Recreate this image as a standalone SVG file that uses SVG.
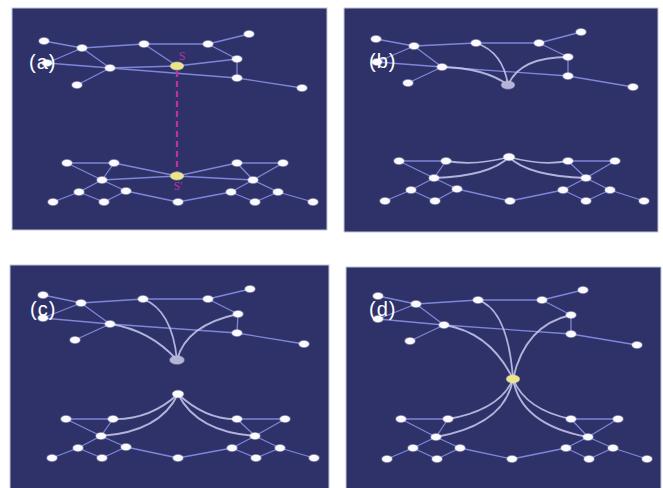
<svg xmlns="http://www.w3.org/2000/svg" width="663" height="488" viewBox="0 0 663 488">
<style>
.bg{fill:#2e3269;stroke:#c4c6d4;stroke-width:1}
.e{stroke:#7f86da;stroke-width:1.3;fill:none}
.c{stroke:#c8caf0;stroke-width:1.8;fill:none;opacity:.85}
.n{fill:#fafaff;stroke:#ffffff;stroke-opacity:.35;stroke-width:1.5}
.y{fill:#ebe58a;stroke:#f4f0b0;stroke-opacity:.5;stroke-width:1.5}
.g{fill:#b4b4d6;stroke:#c8c8e4;stroke-opacity:.5;stroke-width:1.5}
.lab{font-family:"Liberation Sans",Arial,sans-serif;font-size:20px;letter-spacing:1px;fill:#ffffff}
.s{font-family:"Liberation Serif","Times New Roman",serif;font-size:12px;fill:#b0359c;text-anchor:middle}
.d{stroke:#c0309a;stroke-width:2.2;stroke-dasharray:6 4;fill:none}
</style>
<g id="panels">
<rect class="bg" x="12" y="8" width="315" height="222"/>
<rect class="bg" x="344" y="8" width="314" height="224"/>
<rect class="bg" x="10" y="265" width="319" height="224"/>
<rect class="bg" x="346" y="267" width="315" height="222"/>
</g>
<g id="connectors">
<!-- panel a -->
<line class="e" x1="44" y1="41" x2="82" y2="48"/>
<line class="e" x1="82" y1="48" x2="144" y2="44"/>
<line class="e" x1="144" y1="44" x2="208" y2="44"/>
<line class="e" x1="208" y1="44" x2="249" y2="34"/>
<line class="e" x1="208" y1="44" x2="237" y2="59"/>
<line class="e" x1="237" y1="59" x2="237" y2="78"/>
<line class="e" x1="237" y1="78" x2="302" y2="88"/>
<line class="e" x1="47" y1="63" x2="82" y2="48"/>
<line class="e" x1="47" y1="63" x2="110" y2="68"/>
<line class="e" x1="110" y1="68" x2="237" y2="78"/>
<line class="e" x1="82" y1="48" x2="110" y2="68"/>
<line class="e" x1="110" y1="68" x2="77" y2="85"/>
<line class="e" x1="144" y1="44" x2="177" y2="66"/>
<line class="e" x1="237" y1="59" x2="177" y2="66"/>
<line class="e" x1="110" y1="68" x2="177" y2="66"/>
<line class="e" x1="67" y1="163" x2="114" y2="163"/>
<line class="e" x1="67" y1="163" x2="102" y2="180"/>
<line class="e" x1="114" y1="163" x2="102" y2="180"/>
<line class="e" x1="102" y1="180" x2="79" y2="192"/>
<line class="e" x1="102" y1="180" x2="126" y2="191"/>
<line class="e" x1="79" y1="192" x2="53" y2="202"/>
<line class="e" x1="79" y1="192" x2="104" y2="202"/>
<line class="e" x1="104" y1="202" x2="126" y2="191"/>
<line class="e" x1="126" y1="191" x2="178" y2="202"/>
<line class="e" x1="178" y1="202" x2="231" y2="192"/>
<line class="e" x1="237" y1="163" x2="283" y2="163"/>
<line class="e" x1="237" y1="163" x2="253" y2="180"/>
<line class="e" x1="283" y1="163" x2="253" y2="180"/>
<line class="e" x1="253" y1="180" x2="231" y2="192"/>
<line class="e" x1="253" y1="180" x2="278" y2="192"/>
<line class="e" x1="231" y1="192" x2="255" y2="202"/>
<line class="e" x1="255" y1="202" x2="278" y2="192"/>
<line class="e" x1="278" y1="192" x2="313" y2="202"/>
<line class="e" x1="114" y1="163" x2="177" y2="176"/>
<line class="e" x1="102" y1="180" x2="177" y2="176"/>
<line class="e" x1="237" y1="163" x2="177" y2="176"/>
<line class="e" x1="253" y1="180" x2="177" y2="176"/>
<line class="d" x1="177" y1="71" x2="177" y2="172"/>
<!-- panel b -->
<line class="e" x1="376" y1="39" x2="414" y2="46"/>
<line class="e" x1="414" y1="46" x2="476" y2="43"/>
<line class="e" x1="476" y1="43" x2="539" y2="43"/>
<line class="e" x1="539" y1="43" x2="581" y2="32"/>
<line class="e" x1="539" y1="43" x2="568" y2="57"/>
<line class="e" x1="568" y1="57" x2="568" y2="76"/>
<line class="e" x1="568" y1="76" x2="633" y2="87"/>
<line class="e" x1="377" y1="62" x2="414" y2="46"/>
<line class="e" x1="377" y1="62" x2="442" y2="67"/>
<line class="e" x1="442" y1="67" x2="568" y2="76"/>
<line class="e" x1="414" y1="46" x2="442" y2="67"/>
<line class="e" x1="442" y1="67" x2="408" y2="83"/>
<path class="c" d="M476,43 Q503,52 508,85"/>
<path class="c" d="M568,57 Q520,57 508,85"/>
<path class="c" d="M442,67 Q485,68 508,85"/>
<line class="e" x1="399" y1="161" x2="446" y2="161"/>
<line class="e" x1="399" y1="161" x2="434" y2="178"/>
<line class="e" x1="446" y1="161" x2="434" y2="178"/>
<line class="e" x1="434" y1="178" x2="411" y2="190"/>
<line class="e" x1="434" y1="178" x2="457" y2="189"/>
<line class="e" x1="411" y1="190" x2="385" y2="201"/>
<line class="e" x1="411" y1="190" x2="435" y2="201"/>
<line class="e" x1="435" y1="201" x2="457" y2="189"/>
<line class="e" x1="457" y1="189" x2="510" y2="201"/>
<line class="e" x1="510" y1="201" x2="563" y2="190"/>
<line class="e" x1="568" y1="161" x2="615" y2="161"/>
<line class="e" x1="568" y1="161" x2="586" y2="178"/>
<line class="e" x1="615" y1="161" x2="586" y2="178"/>
<line class="e" x1="586" y1="178" x2="563" y2="190"/>
<line class="e" x1="586" y1="178" x2="610" y2="190"/>
<line class="e" x1="563" y1="190" x2="586" y2="201"/>
<line class="e" x1="586" y1="201" x2="610" y2="190"/>
<line class="e" x1="610" y1="190" x2="644" y2="201"/>
<path class="c" d="M446,161 Q475,166 509,157"/>
<path class="c" d="M434,178 Q490,176 509,157"/>
<path class="c" d="M568,161 Q542,166 509,157"/>
<path class="c" d="M586,178 Q528,176 509,157"/>
<!-- panel c -->
<line class="e" x1="43" y1="295" x2="81" y2="303"/>
<line class="e" x1="81" y1="303" x2="143" y2="299"/>
<line class="e" x1="143" y1="299" x2="208" y2="299"/>
<line class="e" x1="208" y1="299" x2="250" y2="289"/>
<line class="e" x1="208" y1="299" x2="238" y2="314"/>
<line class="e" x1="238" y1="314" x2="237" y2="333"/>
<line class="e" x1="237" y1="333" x2="304" y2="344"/>
<line class="e" x1="43" y1="318" x2="81" y2="303"/>
<line class="e" x1="43" y1="318" x2="110" y2="324"/>
<line class="e" x1="110" y1="324" x2="237" y2="333"/>
<line class="e" x1="81" y1="303" x2="110" y2="324"/>
<line class="e" x1="110" y1="324" x2="75" y2="340"/>
<path class="c" d="M143,299 Q172,310 177,360"/>
<path class="c" d="M238,314 Q186,325 177,360"/>
<path class="c" d="M110,324 Q150,330 177,360"/>
<line class="e" x1="66" y1="419" x2="113" y2="419"/>
<line class="e" x1="66" y1="419" x2="101" y2="436"/>
<line class="e" x1="113" y1="419" x2="101" y2="436"/>
<line class="e" x1="101" y1="436" x2="78" y2="448"/>
<line class="e" x1="101" y1="436" x2="126" y2="447"/>
<line class="e" x1="78" y1="448" x2="52" y2="458"/>
<line class="e" x1="78" y1="448" x2="102" y2="458"/>
<line class="e" x1="102" y1="458" x2="126" y2="447"/>
<line class="e" x1="126" y1="447" x2="178" y2="458"/>
<line class="e" x1="178" y1="458" x2="232" y2="448"/>
<line class="e" x1="237" y1="419" x2="285" y2="419"/>
<line class="e" x1="237" y1="419" x2="255" y2="436"/>
<line class="e" x1="285" y1="419" x2="255" y2="436"/>
<line class="e" x1="255" y1="436" x2="232" y2="448"/>
<line class="e" x1="255" y1="436" x2="280" y2="448"/>
<line class="e" x1="232" y1="448" x2="256" y2="458"/>
<line class="e" x1="256" y1="458" x2="280" y2="448"/>
<line class="e" x1="280" y1="448" x2="314" y2="458"/>
<path class="c" d="M113,419 Q150,420 178,394"/>
<path class="c" d="M101,436 Q160,432 178,394"/>
<path class="c" d="M237,419 Q206,420 178,394"/>
<path class="c" d="M255,436 Q197,432 178,394"/>
<!-- panel d -->
<line class="e" x1="378" y1="296" x2="416" y2="304"/>
<line class="e" x1="416" y1="304" x2="478" y2="300"/>
<line class="e" x1="478" y1="300" x2="542" y2="300"/>
<line class="e" x1="542" y1="300" x2="583" y2="290"/>
<line class="e" x1="542" y1="300" x2="571" y2="315"/>
<line class="e" x1="571" y1="315" x2="571" y2="334"/>
<line class="e" x1="571" y1="334" x2="637" y2="345"/>
<line class="e" x1="378" y1="319" x2="416" y2="304"/>
<line class="e" x1="378" y1="319" x2="444" y2="325"/>
<line class="e" x1="444" y1="325" x2="571" y2="334"/>
<line class="e" x1="416" y1="304" x2="444" y2="325"/>
<line class="e" x1="444" y1="325" x2="410" y2="341"/>
<path class="c" d="M478,300 Q508,310 513,379"/>
<path class="c" d="M571,315 Q525,325 513,379"/>
<path class="c" d="M444,325 Q490,332 513,379"/>
<line class="e" x1="401" y1="419" x2="448" y2="419"/>
<line class="e" x1="401" y1="419" x2="436" y2="437"/>
<line class="e" x1="448" y1="419" x2="436" y2="437"/>
<line class="e" x1="436" y1="437" x2="413" y2="448"/>
<line class="e" x1="436" y1="437" x2="460" y2="448"/>
<line class="e" x1="413" y1="448" x2="387" y2="459"/>
<line class="e" x1="413" y1="448" x2="437" y2="459"/>
<line class="e" x1="437" y1="459" x2="460" y2="448"/>
<line class="e" x1="460" y1="448" x2="512" y2="459"/>
<line class="e" x1="512" y1="459" x2="566" y2="448"/>
<line class="e" x1="571" y1="419" x2="618" y2="419"/>
<line class="e" x1="571" y1="419" x2="588" y2="437"/>
<line class="e" x1="618" y1="419" x2="588" y2="437"/>
<line class="e" x1="588" y1="437" x2="566" y2="448"/>
<line class="e" x1="588" y1="437" x2="613" y2="448"/>
<line class="e" x1="566" y1="448" x2="589" y2="459"/>
<line class="e" x1="589" y1="459" x2="613" y2="448"/>
<line class="e" x1="613" y1="448" x2="647" y2="459"/>
<path class="c" d="M448,419 Q500,410 513,379"/>
<path class="c" d="M436,437 Q505,425 513,379"/>
<path class="c" d="M571,419 Q526,410 513,379"/>
<path class="c" d="M588,437 Q521,425 513,379"/>
</g>
<!-- nodes panel a -->
<g id="a-n1"><ellipse class="n" cx="44" cy="41" rx="5" ry="3.2"/></g>
<g id="a-n2"><ellipse class="n" cx="82" cy="48" rx="5" ry="3.2"/></g>
<g id="a-n3"><ellipse class="n" cx="144" cy="44" rx="5" ry="3.2"/></g>
<g id="a-n4"><ellipse class="n" cx="208" cy="44" rx="5" ry="3.2"/></g>
<g id="a-n5"><ellipse class="n" cx="249" cy="34" rx="5" ry="3.2"/></g>
<g id="a-n6"><ellipse class="n" cx="237" cy="59" rx="5" ry="3.2"/></g>
<g id="a-n7"><ellipse class="n" cx="47" cy="63" rx="5" ry="3.2"/></g>
<g id="a-n8"><ellipse class="n" cx="110" cy="68" rx="5" ry="3.2"/></g>
<g id="a-S"><ellipse class="y" cx="177" cy="66" rx="6.5" ry="3.8"/><text class="s" x="182" y="60">S</text></g>
<g id="a-n9"><ellipse class="n" cx="77" cy="85" rx="5" ry="3.2"/></g>
<g id="a-n10"><ellipse class="n" cx="237" cy="78" rx="5" ry="3.2"/></g>
<g id="a-n11"><ellipse class="n" cx="302" cy="88" rx="5" ry="3.2"/></g>
<g id="a-b1"><ellipse class="n" cx="67" cy="163" rx="5" ry="3.2"/></g>
<g id="a-b2"><ellipse class="n" cx="114" cy="163" rx="5" ry="3.2"/></g>
<g id="a-b3"><ellipse class="n" cx="102" cy="180" rx="5" ry="3.2"/></g>
<g id="a-b4"><ellipse class="n" cx="79" cy="192" rx="5" ry="3.2"/></g>
<g id="a-b5"><ellipse class="n" cx="126" cy="191" rx="5" ry="3.2"/></g>
<g id="a-b6"><ellipse class="n" cx="53" cy="202" rx="5" ry="3.2"/></g>
<g id="a-b7"><ellipse class="n" cx="104" cy="202" rx="5" ry="3.2"/></g>
<g id="a-Sp"><ellipse class="y" cx="177" cy="176" rx="6.5" ry="3.8"/><text class="s" x="178" y="190">S'</text></g>
<g id="a-b8"><ellipse class="n" cx="178" cy="202" rx="5" ry="3.2"/></g>
<g id="a-b9"><ellipse class="n" cx="237" cy="163" rx="5" ry="3.2"/></g>
<g id="a-b10"><ellipse class="n" cx="283" cy="163" rx="5" ry="3.2"/></g>
<g id="a-b11"><ellipse class="n" cx="253" cy="180" rx="5" ry="3.2"/></g>
<g id="a-b12"><ellipse class="n" cx="231" cy="192" rx="5" ry="3.2"/></g>
<g id="a-b13"><ellipse class="n" cx="278" cy="192" rx="5" ry="3.2"/></g>
<g id="a-b14"><ellipse class="n" cx="255" cy="202" rx="5" ry="3.2"/></g>
<g id="a-b15"><ellipse class="n" cx="313" cy="202" rx="5" ry="3.2"/></g>
<!-- nodes panel b -->
<g id="b-n1"><ellipse class="n" cx="376" cy="39" rx="5" ry="3.2"/></g>
<g id="b-n2"><ellipse class="n" cx="414" cy="46" rx="5" ry="3.2"/></g>
<g id="b-n3"><ellipse class="n" cx="476" cy="43" rx="5" ry="3.2"/></g>
<g id="b-n4"><ellipse class="n" cx="539" cy="43" rx="5" ry="3.2"/></g>
<g id="b-n5"><ellipse class="n" cx="581" cy="32" rx="5" ry="3.2"/></g>
<g id="b-n6"><ellipse class="n" cx="568" cy="57" rx="5" ry="3.2"/></g>
<g id="b-n7"><ellipse class="n" cx="377" cy="62" rx="5" ry="3.2"/></g>
<g id="b-n8"><ellipse class="n" cx="442" cy="67" rx="5" ry="3.2"/></g>
<g id="b-S"><ellipse class="g" cx="508" cy="85" rx="6.5" ry="3.8"/></g>
<g id="b-n9"><ellipse class="n" cx="408" cy="83" rx="5" ry="3.2"/></g>
<g id="b-n10"><ellipse class="n" cx="568" cy="76" rx="5" ry="3.2"/></g>
<g id="b-n11"><ellipse class="n" cx="633" cy="87" rx="5" ry="3.2"/></g>
<g id="b-b1"><ellipse class="n" cx="399" cy="161" rx="5" ry="3.2"/></g>
<g id="b-b2"><ellipse class="n" cx="446" cy="161" rx="5" ry="3.2"/></g>
<g id="b-b3"><ellipse class="n" cx="434" cy="178" rx="5" ry="3.2"/></g>
<g id="b-b4"><ellipse class="n" cx="411" cy="190" rx="5" ry="3.2"/></g>
<g id="b-b5"><ellipse class="n" cx="457" cy="189" rx="5" ry="3.2"/></g>
<g id="b-b6"><ellipse class="n" cx="385" cy="201" rx="5" ry="3.2"/></g>
<g id="b-b7"><ellipse class="n" cx="435" cy="201" rx="5" ry="3.2"/></g>
<g id="b-Sp"><ellipse class="n" cx="509" cy="157" rx="5.5" ry="3.4"/></g>
<g id="b-b8"><ellipse class="n" cx="510" cy="201" rx="5" ry="3.2"/></g>
<g id="b-b9"><ellipse class="n" cx="568" cy="161" rx="5" ry="3.2"/></g>
<g id="b-b10"><ellipse class="n" cx="615" cy="161" rx="5" ry="3.2"/></g>
<g id="b-b11"><ellipse class="n" cx="586" cy="178" rx="5" ry="3.2"/></g>
<g id="b-b12"><ellipse class="n" cx="563" cy="190" rx="5" ry="3.2"/></g>
<g id="b-b13"><ellipse class="n" cx="610" cy="190" rx="5" ry="3.2"/></g>
<g id="b-b14"><ellipse class="n" cx="586" cy="201" rx="5" ry="3.2"/></g>
<g id="b-b15"><ellipse class="n" cx="644" cy="201" rx="5" ry="3.2"/></g>
<!-- nodes panel c -->
<g id="c-n1"><ellipse class="n" cx="43" cy="295" rx="5" ry="3.2"/></g>
<g id="c-n2"><ellipse class="n" cx="81" cy="303" rx="5" ry="3.2"/></g>
<g id="c-n3"><ellipse class="n" cx="143" cy="299" rx="5" ry="3.2"/></g>
<g id="c-n4"><ellipse class="n" cx="208" cy="299" rx="5" ry="3.2"/></g>
<g id="c-n5"><ellipse class="n" cx="250" cy="289" rx="5" ry="3.2"/></g>
<g id="c-n6"><ellipse class="n" cx="238" cy="314" rx="5" ry="3.2"/></g>
<g id="c-n7"><ellipse class="n" cx="43" cy="318" rx="5" ry="3.2"/></g>
<g id="c-n8"><ellipse class="n" cx="110" cy="324" rx="5" ry="3.2"/></g>
<g id="c-S"><ellipse class="g" cx="177" cy="360" rx="7" ry="4"/></g>
<g id="c-n9"><ellipse class="n" cx="75" cy="340" rx="5" ry="3.2"/></g>
<g id="c-n10"><ellipse class="n" cx="237" cy="333" rx="5" ry="3.2"/></g>
<g id="c-n11"><ellipse class="n" cx="304" cy="344" rx="5" ry="3.2"/></g>
<g id="c-Sp"><ellipse class="n" cx="178" cy="394" rx="5.5" ry="3.4"/></g>
<g id="c-b1"><ellipse class="n" cx="66" cy="419" rx="5" ry="3.2"/></g>
<g id="c-b2"><ellipse class="n" cx="113" cy="419" rx="5" ry="3.2"/></g>
<g id="c-b3"><ellipse class="n" cx="101" cy="436" rx="5" ry="3.2"/></g>
<g id="c-b4"><ellipse class="n" cx="78" cy="448" rx="5" ry="3.2"/></g>
<g id="c-b5"><ellipse class="n" cx="126" cy="447" rx="5" ry="3.2"/></g>
<g id="c-b6"><ellipse class="n" cx="52" cy="458" rx="5" ry="3.2"/></g>
<g id="c-b7"><ellipse class="n" cx="102" cy="458" rx="5" ry="3.2"/></g>
<g id="c-b8"><ellipse class="n" cx="178" cy="458" rx="5" ry="3.2"/></g>
<g id="c-b9"><ellipse class="n" cx="237" cy="419" rx="5" ry="3.2"/></g>
<g id="c-b10"><ellipse class="n" cx="285" cy="419" rx="5" ry="3.2"/></g>
<g id="c-b11"><ellipse class="n" cx="255" cy="436" rx="5" ry="3.2"/></g>
<g id="c-b12"><ellipse class="n" cx="232" cy="448" rx="5" ry="3.2"/></g>
<g id="c-b13"><ellipse class="n" cx="280" cy="448" rx="5" ry="3.2"/></g>
<g id="c-b14"><ellipse class="n" cx="256" cy="458" rx="5" ry="3.2"/></g>
<g id="c-b15"><ellipse class="n" cx="314" cy="458" rx="5" ry="3.2"/></g>
<!-- nodes panel d -->
<g id="d-n1"><ellipse class="n" cx="378" cy="296" rx="5" ry="3.2"/></g>
<g id="d-n2"><ellipse class="n" cx="416" cy="304" rx="5" ry="3.2"/></g>
<g id="d-n3"><ellipse class="n" cx="478" cy="300" rx="5" ry="3.2"/></g>
<g id="d-n4"><ellipse class="n" cx="542" cy="300" rx="5" ry="3.2"/></g>
<g id="d-n5"><ellipse class="n" cx="583" cy="290" rx="5" ry="3.2"/></g>
<g id="d-n6"><ellipse class="n" cx="571" cy="315" rx="5" ry="3.2"/></g>
<g id="d-n7"><ellipse class="n" cx="378" cy="319" rx="5" ry="3.2"/></g>
<g id="d-n8"><ellipse class="n" cx="444" cy="325" rx="5" ry="3.2"/></g>
<g id="d-n9"><ellipse class="n" cx="410" cy="341" rx="5" ry="3.2"/></g>
<g id="d-n10"><ellipse class="n" cx="571" cy="334" rx="5" ry="3.2"/></g>
<g id="d-n11"><ellipse class="n" cx="637" cy="345" rx="5" ry="3.2"/></g>
<g id="d-M"><ellipse class="y" cx="513" cy="379" rx="6.5" ry="3.8"/></g>
<g id="d-b1"><ellipse class="n" cx="401" cy="419" rx="5" ry="3.2"/></g>
<g id="d-b2"><ellipse class="n" cx="448" cy="419" rx="5" ry="3.2"/></g>
<g id="d-b3"><ellipse class="n" cx="436" cy="437" rx="5" ry="3.2"/></g>
<g id="d-b4"><ellipse class="n" cx="413" cy="448" rx="5" ry="3.2"/></g>
<g id="d-b5"><ellipse class="n" cx="460" cy="448" rx="5" ry="3.2"/></g>
<g id="d-b6"><ellipse class="n" cx="387" cy="459" rx="5" ry="3.2"/></g>
<g id="d-b7"><ellipse class="n" cx="437" cy="459" rx="5" ry="3.2"/></g>
<g id="d-b8"><ellipse class="n" cx="512" cy="459" rx="5" ry="3.2"/></g>
<g id="d-b9"><ellipse class="n" cx="571" cy="419" rx="5" ry="3.2"/></g>
<g id="d-b10"><ellipse class="n" cx="618" cy="419" rx="5" ry="3.2"/></g>
<g id="d-b11"><ellipse class="n" cx="588" cy="437" rx="5" ry="3.2"/></g>
<g id="d-b12"><ellipse class="n" cx="566" cy="448" rx="5" ry="3.2"/></g>
<g id="d-b13"><ellipse class="n" cx="613" cy="448" rx="5" ry="3.2"/></g>
<g id="d-b14"><ellipse class="n" cx="589" cy="459" rx="5" ry="3.2"/></g>
<g id="d-b15"><ellipse class="n" cx="647" cy="459" rx="5" ry="3.2"/></g>
<g id="labels">
<text class="lab" x="29" y="69">(a)</text>
<text class="lab" x="369" y="68">(b)</text>
<text class="lab" x="30" y="316">(c)</text>
<text class="lab" x="369" y="316">(d)</text>
</g>
</svg>
